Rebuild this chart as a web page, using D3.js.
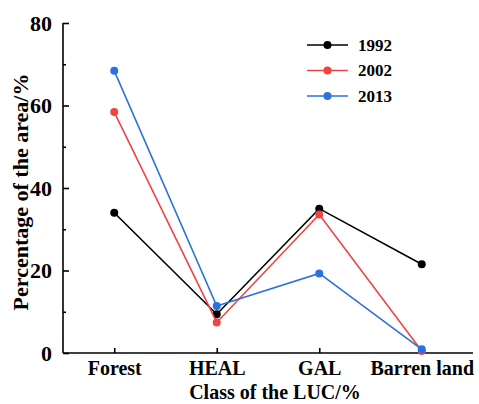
<!doctype html>
<html>
  <head>
    <script src="https://cdn.jsdelivr.net/npm/d3@7/dist/d3.min.js"></script>
    <style>
      body { margin: 0; background: #fff; }
      text { font-family: "Liberation Serif", "Times New Roman", serif; font-weight: bold; }
    </style>
  </head>
  <body>
    <div id="chart"></div>
    <script>
      // data
      var categories = ["Forest", "HEAL", "GAL", "Barren land"];
      var years = ["1992", "2002", "2013"];
      var v1992 = [34.0, 9.4, 35.0, 21.5];
      var v2002 = [58.4, 7.4, 33.6, 0.5];
      var v2013 = [68.4, 11.4, 19.3, 0.9];
      var yTicks = [0, 20, 40, 60, 80];
      var colors = ["#000000", "#ef4444", "#2b72dd"];

      var series = [v1992, v2002, v2013].map(function(vals, i) {
        return { name: years[i], color: colors[i],
          values: vals.map(function(v, j) { return { cat: j + 1, value: v }; }) };
      });

      var W = 479, H = 404;
      var margin = { top: 23, right: 6, bottom: 51, left: 63 };
      var width = W - margin.left - margin.right,
          height = H - margin.top - margin.bottom;

      var svg = d3.select("#chart").append("svg")
          .attr("width", W).attr("height", H)
        .append("g")
          .attr("transform", "translate(" + margin.left + "," + margin.top + ")");

      var x = d3.scaleLinear().domain([0.5, 4.5]).range([0, width]);
      var y = d3.scaleLinear().domain([0, 80]).range([height, 0]);

      // y axis: major ticks inward, minor ticks in between
      var yAxis = svg.append("g")
        .call(d3.axisLeft(y).tickValues(yTicks).tickSize(-6).tickPadding(11));
      yAxis.selectAll(".tick text").style("font-size", "22px");
      svg.append("g")
        .call(d3.axisLeft(y).tickValues([10, 30, 50, 70]).tickSize(-3).tickFormat(""))
        .select(".domain").remove();

      // x axis with ticks pointing up
      var xAxis = svg.append("g")
        .attr("transform", "translate(0," + height + ")")
        .call(d3.axisBottom(x).tickValues([1, 2, 3, 4]).tickSize(-5).tickPadding(8)
          .tickFormat(function(d) { return categories[d - 1]; }));
      xAxis.selectAll(".tick text").style("font-size", "20px");

      svg.selectAll(".domain, .tick line").attr("stroke", "#000").attr("stroke-width", 1.6);
      svg.selectAll(".domain").attr("d", function() {
        return d3.select(this.parentNode).attr("transform") ?
          "M0,0H" + width : "M0,0V" + height;
      });

      var line = d3.line()
        .x(function(d) { return x(d.cat); })
        .y(function(d) { return y(d.value); });

      var groups = svg.selectAll(".series")
        .data(series)
        .enter().append("g");

      groups.append("path")
        .attr("d", function(d) { return line(d.values); })
        .attr("fill", "none")
        .attr("stroke", function(d) { return d.color; })
        .attr("stroke-width", 1.6);

      groups.selectAll("circle")
        .data(function(d) { return d.values.map(function(p) { return { p: p, color: d.color }; }); })
        .enter().append("circle")
          .attr("cx", function(d) { return x(d.p.cat); })
          .attr("cy", function(d) { return y(d.p.value); })
          .attr("r", 4)
          .attr("fill", function(d) { return d.color; });

      // axis titles
      svg.append("text")
        .attr("x", 212)
        .attr("y", height + 46)
        .attr("text-anchor", "middle")
        .style("font-size", "20px")
        .text("Class of the LUC/%");

      svg.append("text")
        .attr("transform", "translate(" + (-35) + "," + 169 + ") rotate(-90)")
        .attr("text-anchor", "middle")
        .style("font-size", "22px")
        .text("Percentage of the area/%");

      // legend
      var legend = svg.selectAll(".legend")
        .data(series)
        .enter().append("g")
          .attr("transform", function(d, i) { return "translate(244," + (22 + i * 25.5) + ")"; });
      legend.append("line")
        .attr("x1", 0).attr("x2", 41)
        .attr("stroke", function(d) { return d.color; })
        .attr("stroke-width", 1.6);
      legend.append("circle")
        .attr("cx", 20.5).attr("r", 4)
        .attr("fill", function(d) { return d.color; });
      legend.append("text")
        .attr("x", 51).attr("dy", "0.35em")
        .style("font-size", "17px")
        .text(function(d) { return d.name; });
    </script>
  </body>
</html>
